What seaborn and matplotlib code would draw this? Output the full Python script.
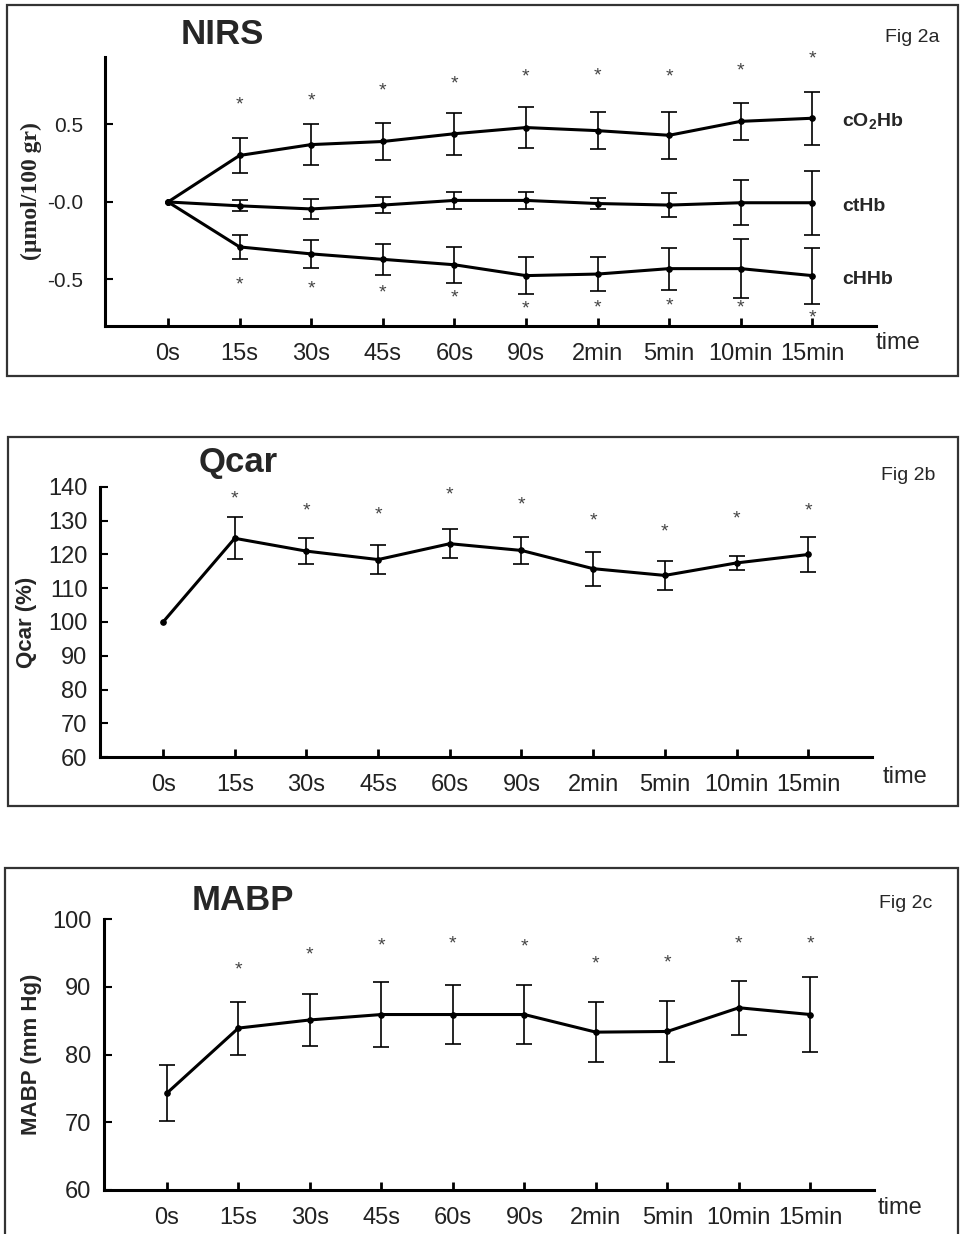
import numpy as np
import matplotlib.pyplot as plt
import seaborn as sns
from matplotlib.patches import Rectangle

sns.set_style('ticks')
plt.rcParams['font.family'] = ['Liberation Sans', 'DejaVu Sans']
plt.rcParams['mathtext.fontset'] = 'custom'
plt.rcParams['mathtext.bf'] = 'Liberation Sans:bold'

# ---------------- data ----------------
time_labels = ['0s', '15s', '30s', '45s', '60s', '90s', '2min', '5min', '10min', '15min']

# Fig 2a  NIRS (umol/100 gr)
o2hb_mean = [0, 0.30, 0.37, 0.39, 0.44, 0.48, 0.46, 0.43, 0.52, 0.54]
o2hb_err = [0, 0.11, 0.13, 0.12, 0.135, 0.13, 0.12, 0.15, 0.12, 0.17]
cthb_mean = [0, -0.025, -0.045, -0.02, 0.01, 0.01, -0.01, -0.02, -0.005, -0.005]
cthb_err = [0, 0.035, 0.065, 0.05, 0.055, 0.055, 0.033, 0.075, 0.145, 0.205]
chhb_mean = [0, -0.29, -0.335, -0.37, -0.405, -0.475, -0.465, -0.43, -0.43, -0.475]
chhb_err = [0, 0.077, 0.09, 0.10, 0.115, 0.12, 0.11, 0.135, 0.19, 0.18]
nirs_star_up = [None, 0.65, 0.68, 0.745, 0.79, 0.83, 0.84, 0.83, 0.875, 0.95]
nirs_star_dn = [None, -0.51, -0.535, -0.56, -0.59, -0.665, -0.655, -0.645, -0.655, -0.72]

# Fig 2b  Qcar (%)
qcar_mean = [100, 124.8, 121, 118.5, 123.2, 121.2, 115.8, 113.8, 117.5, 120]
qcar_err = [0, 6.2, 3.9, 4.2, 4.3, 4.0, 5.0, 4.2, 2.2, 5.1]
qcar_star = [None, 137.6, 134.2, 133, 139, 135.8, 131.3, 128, 131.8, 134]

# Fig 2c  MABP (mm Hg)
mabp_mean = [74.3, 83.9, 85.1, 85.9, 85.9, 85.9, 83.3, 83.4, 86.9, 85.9]
mabp_err = [4.1, 3.9, 3.85, 4.85, 4.4, 4.3, 4.45, 4.45, 3.95, 5.5]
mabp_star = [None, 93.1, 95.3, 96.7, 96.9, 96.5, 94, 94.1, 96.9, 96.9]

W, H = 962, 1234
idx = np.arange(len(time_labels))


def fx(px):
    return px / W


def fy(py):
    return 1 - py / H


def series(ax, mean, err):
    mean = np.asarray(mean, float)
    err = np.asarray(err, float)
    sns.lineplot(x=idx, y=mean, ax=ax, color='black', lw=2.2, marker='o',
                 markersize=4, markeredgecolor='black', legend=False)
    ok = err > 0
    ax.errorbar(idx[ok], mean[ok], yerr=err[ok], fmt='none', ecolor='black',
                elinewidth=1.2, capsize=6, capthick=1.2)


def stars(ax, ys):
    for i, y in enumerate(ys):
        if y is None:
            continue
        ax.annotate('*', (i, y), xytext=(0, -3), textcoords='offset points',
                    ha='center', va='center', fontsize=14, color='#444',
                    annotation_clip=False)


def style(ax, ylim, ypad):
    ax.set_xlim(-0.88, 9.89)
    ax.set_ylim(*ylim)
    ax.set_xticks(idx)
    ax.set_xticklabels(time_labels)
    for s in ['top', 'right']:
        ax.spines[s].set_visible(False)
    for s in ['left', 'bottom']:
        ax.spines[s].set_linewidth(2.2)
        ax.spines[s].set_color('black')
    ax.tick_params(axis='x', direction='in', length=6, width=2, pad=12,
                   labelsize=17, colors='black', labelcolor='#222')
    ax.tick_params(axis='y', direction='in', length=6, width=1.5, pad=ypad,
                   labelsize=17, colors='black', labelcolor='#222')
    ax.set_facecolor('none')


def frame(top, bottom, left=7, right=958):
    fig.add_artist(Rectangle((fx(left), fy(bottom)), fx(right - left), (bottom - top) / H,
                             transform=fig.transFigure, fill=False, lw=1.6,
                             ec='#333', clip_on=False))


fig = plt.figure(figsize=(W / 100, H / 100), dpi=100)

# ---------------- Fig 2a ----------------
frame(5, 376)
ax1 = fig.add_axes([fx(105), fy(326), fx(771), 269 / H])
series(ax1, o2hb_mean, o2hb_err)
series(ax1, cthb_mean, cthb_err)
series(ax1, chhb_mean, chhb_err)
stars(ax1, nirs_star_up)
stars(ax1, nirs_star_dn)
style(ax1, (-0.80, 0.935), 16)
ax1.set_yticks([-0.5, 0.0, 0.5])
ax1.set_yticklabels(['-0.5', '-0.0', '0.5'])
ax1.tick_params(axis='y', labelsize=15)
ax1.set_ylabel('(µmol/100 gr)', fontsize=17, fontweight='bold',
               family=['Liberation Serif', 'DejaVu Serif'])
ax1.yaxis.set_label_coords(-0.082, 0.5)
for mean, name in [(o2hb_mean, r'cO$_\mathbf{2}$Hb'), (cthb_mean, 'ctHb'), (chhb_mean, 'cHHb')]:
    ax1.annotate(name, (9.42, mean[-1]), xytext=(0, -2.5), textcoords='offset points',
                 ha='left', va='center', fontsize=14, fontweight='bold',
                 annotation_clip=False)
fig.text(fx(222), fy(34), 'NIRS', ha='center', va='center', fontsize=25, fontweight='bold')
fig.text(fx(912), fy(38), 'Fig 2a', ha='center', va='center', fontsize=14)
fig.text(fx(898), fy(343), 'time', ha='center', va='center', fontsize=17)

# ---------------- Fig 2b ----------------
frame(437, 806, left=8)
ax2 = fig.add_axes([fx(100), fy(757), fx(772), 270 / H])
series(ax2, qcar_mean, qcar_err)
stars(ax2, qcar_star)
style(ax2, (60, 140), 9)
ax2.set_yticks(np.arange(60, 141, 10))
ax2.set_ylabel('Qcar (%)', fontsize=16, fontweight='bold')
ax2.yaxis.set_label_coords(-0.081, 0.5)
fig.text(fx(238), fy(463), 'Qcar', ha='center', va='center', fontsize=25, fontweight='bold')
fig.text(fx(908), fy(476), 'Fig 2b', ha='center', va='center', fontsize=14)
fig.text(fx(905), fy(777), 'time', ha='center', va='center', fontsize=17)

# ---------------- Fig 2c ----------------
frame(868, H + 20, left=5)
ax3 = fig.add_axes([fx(104), fy(1190), fx(770), 271 / H])
series(ax3, mabp_mean, mabp_err)
stars(ax3, mabp_star)
style(ax3, (60, 100), 9)
ax3.set_yticks(np.arange(60, 101, 10))
ax3.set_ylabel('MABP (mm Hg)', fontsize=16, fontweight='bold')
ax3.yaxis.set_label_coords(-0.08, 0.5)
fig.text(fx(243), fy(900), 'MABP', ha='center', va='center', fontsize=25, fontweight='bold')
fig.text(fx(906), fy(903), 'Fig 2c', ha='center', va='center', fontsize=14)
fig.text(fx(900), fy(1208), 'time', ha='center', va='center', fontsize=17)

fig.savefig('out.png', dpi=100, facecolor='white')
